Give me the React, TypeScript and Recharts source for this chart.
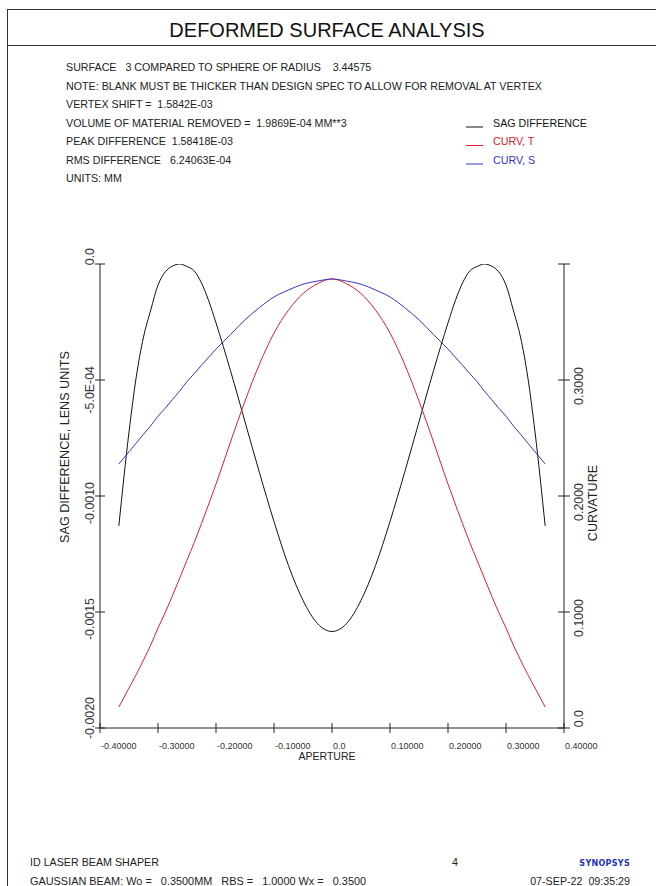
import React from 'react';
import { LineChart, Line, XAxis, YAxis } from 'recharts';

const APERTURE = [
  -0.3675, -0.35, -0.3375, -0.325, -0.3125, -0.3, -0.2875, -0.275, -0.2625, -0.25, -0.2375,
  -0.225, -0.2125, -0.2, -0.175, -0.15, -0.125, -0.1, -0.075, -0.05, -0.025, 0,
  0.025, 0.05, 0.075, 0.1, 0.125, 0.15, 0.175, 0.2, 0.2125, 0.225, 0.2375, 0.25, 0.2625,
  0.275, 0.2875, 0.3, 0.3125, 0.325, 0.3375, 0.35, 0.3675,
];

const SAG_DIFFERENCE = [
  -0.001129, -0.000724, -0.000487, -0.000315, -0.000198, -0.000091, -0.000034, -0.000009, 0, -0.000011, -0.00003,
  -0.000082, -0.000159, -0.000254, -0.00046, -0.00068, -0.0009, -0.00111, -0.0013, -0.00145, -0.00155, -0.001584,
  -0.00155, -0.00145, -0.0013, -0.00111, -0.0009, -0.00068, -0.00046, -0.000254, -0.000159, -0.000082, -0.00003, -0.000011, 0,
  -0.000009, -0.000034, -0.000091, -0.000198, -0.000315, -0.000487, -0.000724, -0.001129,
];

const CURV_T = [
  0.0181, 0.0345, 0.0461, 0.0586, 0.0716, 0.0862, 0.0996, 0.1142, 0.1293, 0.1448, 0.1599,
  0.1763, 0.1931, 0.2103, 0.2466, 0.2819, 0.3138, 0.3405, 0.3603, 0.3745, 0.3830, 0.3871,
  0.3830, 0.3745, 0.3603, 0.3405, 0.3138, 0.2819, 0.2466, 0.2103, 0.1931, 0.1763, 0.1599, 0.1448, 0.1293,
  0.1142, 0.0996, 0.0862, 0.0716, 0.0586, 0.0461, 0.0345, 0.0181,
];

const CURV_S = [
  0.2276, 0.2381, 0.2457, 0.2532, 0.2606, 0.2688, 0.2757, 0.2832, 0.2906, 0.2987, 0.3055,
  0.3127, 0.3197, 0.3266, 0.3392, 0.3519, 0.3625, 0.3716, 0.3776, 0.3826, 0.3853, 0.3871,
  0.3853, 0.3826, 0.3776, 0.3716, 0.3625, 0.3519, 0.3392, 0.3266, 0.3197, 0.3127, 0.3055, 0.2987, 0.2906,
  0.2832, 0.2757, 0.2688, 0.2606, 0.2532, 0.2457, 0.2381, 0.2276,
];

const X_TICKS = [-0.4, -0.3, -0.2, -0.1, 0, 0.1, 0.2, 0.3, 0.4];
const X_TICK_LABELS = ['-0.40000', '-0.30000', '-0.20000', '-0.10000', '0.0', '0.10000', '0.20000', '0.30000', '0.40000'];
const LEFT_TICKS = [-0.002, -0.0015, -0.001, -0.0005, 0];
const LEFT_TICK_LABELS = ['-0.0020', '-0.0015', '-0.0010', '-5.0E-04', '0.0'];
const RIGHT_TICKS = [0, 0.1, 0.2, 0.3, 0.4];
const RIGHT_TICK_LABELS = ['0.0', '0.1000', '0.2000', '0.3000', ''];

const HEADER_LINES = [
  'SURFACE   3 COMPARED TO SPHERE OF RADIUS    3.44575',
  'NOTE: BLANK MUST BE THICKER THAN DESIGN SPEC TO ALLOW FOR REMOVAL AT VERTEX',
  'VERTEX SHIFT =  1.5842E-03',
  'VOLUME OF MATERIAL REMOVED =  1.9869E-04 MM**3',
  'PEAK DIFFERENCE  1.58418E-03',
  'RMS DIFFERENCE   6.24063E-04',
  'UNITS: MM',
];

const LEGEND = [
  { name: 'SAG DIFFERENCE', color: '#111111' },
  { name: 'CURV, T', color: '#e0202a' },
  { name: 'CURV, S', color: '#3535c8' },
];

const data = APERTURE.map((x, i) => ({
  x,
  sag: SAG_DIFFERENCE[i],
  t: CURV_T[i],
  s: CURV_S[i],
}));

const FONT = '"Liberation Sans", Arial, sans-serif';
const AXIS = '#222222';

const closeTo = (a: number, b: number) => Math.abs(a - b) < 1e-9;

const XTick = (props: any) => {
  const { x, y, payload } = props;
  const idx = X_TICKS.findIndex((t) => closeTo(t, payload.value));
  const label = idx >= 0 ? X_TICK_LABELS[idx] : '';
  return (
    <g>
      <line x1={x} x2={x} y1={y - 5} y2={y + 5} stroke={AXIS} strokeWidth={1} />
      <text x={x + 1} y={y + 20.5} fontSize={9} fontFamily={FONT} fill="#333" textAnchor="start">
        {label}
      </text>
    </g>
  );
};

const LeftTick = (props: any) => {
  const { x, y, payload } = props;
  const idx = LEFT_TICKS.findIndex((t) => closeTo(t, payload.value));
  const label = idx >= 0 ? LEFT_TICK_LABELS[idx] : '';
  let ty = y - 14;
  if (closeTo(payload.value, 0)) ty = y - 16;
  if (closeTo(payload.value, -0.002)) ty = y - 31;
  const bx = x - 6.5;
  return (
    <g>
      <line x1={x - 5} x2={x + 5} y1={y} y2={y} stroke={AXIS} strokeWidth={1} />
      <text
        x={bx}
        y={ty}
        transform={`rotate(-90, ${bx}, ${ty})`}
        fontSize={12.4}
        fontFamily={FONT}
        fill="#333"
        textAnchor="end"
      >
        {label}
      </text>
    </g>
  );
};

const RightTick = (props: any) => {
  const { x, y, payload } = props;
  const idx = RIGHT_TICKS.findIndex((t) => closeTo(t, payload.value));
  const label = idx >= 0 ? RIGHT_TICK_LABELS[idx] : '';
  let ty = y - 13;
  if (closeTo(payload.value, 0)) ty = y - 18;
  const bx = x + 19;
  return (
    <g>
      <line x1={x - 6} x2={x + 6} y1={y} y2={y} stroke={AXIS} strokeWidth={1} />
      {label ? (
        <text
          x={bx}
          y={ty}
          transform={`rotate(-90, ${bx}, ${ty})`}
          fontSize={12.4}
          fontFamily={FONT}
          fill="#333"
          textAnchor="end"
        >
          {label}
        </text>
      ) : null}
    </g>
  );
};

export default function App() {
  const headerBaselines = [71, 89.5, 108, 126.5, 145, 163.5, 182];
  return (
    <div style={{ position: 'absolute', left: 0, top: 0, width: 656, height: 886, background: '#fff', overflow: 'hidden' }}>
      <div style={{ position: 'absolute', left: 0, top: 0 }}>
        <LineChart
          width={656}
          height={886}
          data={data}
          margin={{ top: 264, right: 91, bottom: 157, left: 99 }}
        >
          <XAxis
            dataKey="x"
            type="number"
            domain={[-0.4, 0.4]}
            ticks={X_TICKS}
            interval={0}
            height={1}
            tickSize={0}
            tickMargin={0}
            tickLine={false}
            axisLine={{ stroke: AXIS, strokeWidth: 1 }}
            tick={<XTick />}
            allowDataOverflow
          />
          <YAxis
            yAxisId="left"
            orientation="left"
            type="number"
            domain={[-0.002, 0]}
            ticks={LEFT_TICKS}
            interval={0}
            width={1}
            tickSize={0}
            tickMargin={0}
            tickLine={false}
            axisLine={{ stroke: AXIS, strokeWidth: 1 }}
            tick={<LeftTick />}
            allowDataOverflow
          />
          <YAxis
            yAxisId="right"
            orientation="right"
            type="number"
            domain={[0, 0.4]}
            ticks={RIGHT_TICKS}
            interval={0}
            width={1}
            tickSize={0}
            tickMargin={0}
            tickLine={false}
            axisLine={{ stroke: AXIS, strokeWidth: 1 }}
            tick={<RightTick />}
            allowDataOverflow
          />
          <Line yAxisId="left" type="monotone" dataKey="sag" stroke={LEGEND[0].color} strokeWidth={1} dot={false} isAnimationActive={false} />
          <Line yAxisId="right" type="monotone" dataKey="t" stroke={LEGEND[1].color} strokeWidth={1} dot={false} isAnimationActive={false} />
          <Line yAxisId="right" type="monotone" dataKey="s" stroke={LEGEND[2].color} strokeWidth={1} dot={false} isAnimationActive={false} />
        </LineChart>
      </div>
      <svg
        width={656}
        height={886}
        style={{ position: 'absolute', left: 0, top: 0, pointerEvents: 'none' }}
      >
        <line x1={7} x2={656} y1={9.5} y2={9.5} stroke="#333" strokeWidth={1} />
        <line x1={7.5} x2={7.5} y1={9} y2={886} stroke="#333" strokeWidth={1} />
        <line x1={7} x2={656} y1={45.5} y2={45.5} stroke="#333" strokeWidth={1} />
        <text x={327} y={37} fontSize={20} fontFamily={FONT} fill="#111" textAnchor="middle">
          DEFORMED SURFACE ANALYSIS
        </text>
        {HEADER_LINES.map((t, i) => (
          <text
            key={i}
            x={66}
            y={headerBaselines[i]}
            fontSize={10.7}
            fontFamily={FONT}
            fill="#222"
            style={{ whiteSpace: 'pre' }}
          >
            {t}
          </text>
        ))}
        {LEGEND.map((l, i) => (
          <g key={l.name}>
            <line x1={466} x2={483} y1={headerBaselines[3 + i] + 0.5} y2={headerBaselines[3 + i] + 0.5} stroke={l.color} strokeWidth={1} />
            <text x={493} y={headerBaselines[3 + i]} fontSize={10.7} fontFamily={FONT} fill={l.color}>
              {l.name}
            </text>
          </g>
        ))}
        <text
          x={69}
          y={447}
          transform="rotate(-90, 69, 447)"
          fontSize={12.6}
          fontFamily={FONT}
          fill="#222"
          textAnchor="middle"
        >
          SAG DIFFERENCE, LENS UNITS
        </text>
        <text
          x={597}
          y={503}
          transform="rotate(-90, 597, 503)"
          fontSize={12.6}
          fontFamily={FONT}
          fill="#222"
          textAnchor="middle"
        >
          CURVATURE
        </text>
        <text x={327} y={759.5} fontSize={10.5} fontFamily={FONT} fill="#222" textAnchor="middle">
          APERTURE
        </text>
        <text x={30} y={866} fontSize={10.7} fontFamily={FONT} fill="#222">
          ID LASER BEAM SHAPER
        </text>
        <text x={455} y={866} fontSize={10.7} fontFamily={FONT} fill="#222" textAnchor="middle">
          4
        </text>
        <text x={630} y={866} fontSize={8} fontWeight="bold" fontFamily='"DejaVu Sans", sans-serif' fill="#2233bb" textAnchor="end" letterSpacing={0.3}>
          SYNOPSYS
        </text>
        <text x={30} y={885} fontSize={10.9} fontFamily={FONT} fill="#222" style={{ whiteSpace: 'pre' }}>
          GAUSSIAN BEAM: Wo =   0.3500MM   RBS =   1.0000 Wx =   0.3500
        </text>
        <text x={630} y={885} fontSize={10.7} fontFamily={FONT} fill="#222" textAnchor="end" style={{ whiteSpace: 'pre' }}>
          07-SEP-22  09:35:29
        </text>
      </svg>
    </div>
  );
}
